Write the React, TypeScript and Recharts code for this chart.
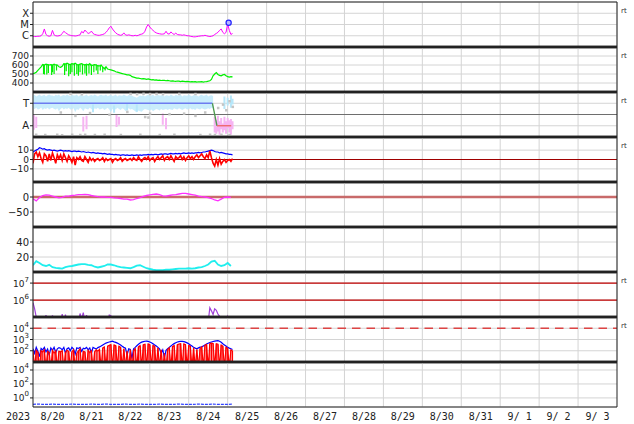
import React from 'react';
import { ComposedChart, Line, Area, Scatter, XAxis, YAxis, ReferenceLine, CartesianGrid } from 'recharts';

// ---------- time axis (days since 2023-08-20 00:00 UT) ----------
const YEAR_LABEL = '2023';
const DAY_LABELS = ['8/20', '8/21', '8/22', '8/23', '8/24', '8/25', '8/26', '8/27', '8/28', '8/29', '8/30', '8/31', '9/ 1', '9/ 2', '9/ 3'];
const DAY_TICKS = [1, 2, 3, 4, 5, 6, 7, 8, 9, 10, 11, 12, 13, 14];
const LABEL_TICKS = [0.5, 1.5, 2.5, 3.5, 4.5, 5.5, 6.5, 7.5, 8.5, 9.5, 10.5, 11.5, 12.5, 13.5, 14.5];

// ---------- panel 1: X-ray flux (hourly) ----------
const XRAY_TICK_LABELS = ['X', 'M', 'C'];
const XRAY_FLUX = [
  9e-7, 8.5e-7, 8.5e-7, 9e-7, 9e-7, 1e-6, 1.5e-6, 4e-6, 1.3e-6, 1e-6,
  9e-7, 1e-6, 3e-6, 1.2e-6, 1e-6, 9.5e-7, 1e-6, 1.1e-6, 1.6e-6, 2.5e-6,
  1.9e-6, 1.5e-6, 1.2e-6, 1.1e-6, 1e-6, 1e-6, 9.5e-7, 1e-6, 1.1e-6, 1.2e-6,
  2.4e-6, 1.8e-6, 3.2e-6, 2.2e-6, 1.6e-6, 1.8e-6, 2.6e-6, 1.6e-6, 1.3e-6, 1.2e-6,
  1.1e-6, 1.1e-6, 1.2e-6, 1.3e-6, 1.5e-6, 2e-6, 3e-6, 5e-6, 7e-6, 4e-6,
  2.6e-6, 1.8e-6, 1.4e-6, 1.2e-6, 1.1e-6, 1.2e-6, 1.8e-6, 1.2e-6, 1.1e-6, 1.2e-6,
  1.1e-6, 1e-6, 1e-6, 1.1e-6, 1e-6, 1.1e-6, 1.3e-6, 1.4e-6, 1.6e-6, 2.5e-6,
  6e-6, 1e-5, 6e-6, 4e-6, 3e-6, 2.2e-6, 1.8e-6, 1.6e-6, 1.5e-6, 1.4e-6,
  1.4e-6, 1.5e-6, 2.5e-6, 1.5e-6, 1.4e-6, 2.2e-6, 1.6e-6, 1.3e-6, 1.7e-6, 1.3e-6,
  1.2e-6, 1.2e-6, 1.1e-6, 1.2e-6, 1.1e-6, 1e-6, 1e-6, 9e-7, 8.5e-7, 8e-7,
  8e-7, 8.5e-7, 9e-7, 9.5e-7, 1e-6, 1e-6, 1.1e-6, 1e-6, 9e-7, 8.5e-7,
  9e-7, 1e-6, 1.3e-6, 1.6e-6, 2e-6, 3e-6, 4e-6, 2e-6, 1.5e-6, 2e-6,
  1.2e-5, 3e-6, 1.3e-6, 1.6e-6,
];
const FLARE_MARKERS = [{ h: 120.6, v: 1.45e-5 }];

// ---------- panel 2: solar wind speed (hourly) ----------
const SPEED_TICKS = [700, 600, 500, 400];
const SW_SPEED = [
  505, 510, 520, 540, 560, 580,
  605, 600, 610, 605, 600, 605, 600, 610, 600, 600,
  580, 575, 585,
  615, 610, 620, 610, 605, 615, 610, 620, 605, 600, 610, 615, 605, 600, 610, 600, 615, 590, 600, 605, 600, 590, 590, 600,
  575, 560, 580, 555, 550,
  545, 540, 535, 525, 520, 515, 510, 505, 500, 495, 490, 490, 485,
  470, 465, 460, 455, 455, 450, 445, 448, 445, 440,
  445, 440, 435, 438, 432, 435, 430, 432, 428, 430,
  430, 425, 428, 425, 420, 424, 420, 418, 422, 420,
  416, 420, 418, 415, 418, 415, 412, 416, 412, 415,
  410, 414, 412, 415, 410, 414, 416, 420, 425,
  440, 480, 500, 515, 495, 485, 480, 490, 495, 480, 470, 465, 470, 468,
];
// short dips in speed: [hour, low, high]
const SW_SPEED_DIPS = [
  [6.5, 500, 605], [7, 495, 600], [8.5, 495, 610], [9.5, 510, 605], [11.5, 490, 605], [12, 520, 600],
  [13, 500, 610], [14.5, 540, 605], [19.5, 490, 615], [20.5, 530, 615], [22, 475, 612], [23, 500, 610],
  [24, 520, 615], [25.5, 480, 615], [27, 500, 612], [28, 480, 605], [29, 520, 608], [30.5, 495, 612],
  [32, 505, 612], [33, 480, 605], [34.5, 505, 610], [36, 490, 605], [37.5, 520, 600], [39, 540, 605],
  [40, 500, 600], [41.5, 540, 590], [43, 520, 580], [44.5, 540, 570],
];

// ---------- panel 3: sector (T / A) ----------
const SECTOR_TICK_LABELS = ['T', 'A'];
const SECTOR_CYAN_HI = [
  1.7, 1.75, 1.6, 1.7, 1.78, 1.65, 1.7, 1.75, 1.6, 1.72, 1.78, 1.68,
  1.7, 1.62, 1.75, 1.7, 1.78, 1.6, 1.7, 1.74, 1.66, 1.78, 1.7, 1.62,
  1.75, 1.7, 1.68, 1.78, 1.6, 1.72, 1.75, 1.65, 1.7, 1.78, 1.62, 1.7,
  1.74, 1.66, 1.78, 1.7, 1.6, 1.72, 1.75, 1.68, 1.7, 1.78, 1.62, 1.7,
  1.75, 1.65, 1.7, 1.78, 1.6, 1.72, 1.7, 1.66, 1.78, 1.7, 1.62, 1.74,
  1.7, 1.68, 1.6, 1.55, 1.5, 1.6, 1.7, 1.65, 1.72, 1.6, 1.7, 1.75,
  1.66, 1.7, 1.78, 1.62, 1.7, 1.74, 1.68, 1.7, 1.78, 1.6, 1.72, 1.7,
  1.65, 1.78, 1.7, 1.62, 1.75, 1.7, 1.68, 1.78, 1.6, 1.72, 1.7, 1.66,
  1.78, 1.7, 1.62, 1.74, 1.7, 1.68, 1.6, 1.72, 1.75, 1.66, 1.7, 1.78,
  1.6, 1.7, 1.72, 1.65,
];
const SECTOR_CYAN_LO = [
  0.55, 0.5, 0.6, 0.45, 0.5, 0.62, 0.4, 0.55, 0.5, 0.6, 0.45, 0.55,
  0.6, 0.5, 0.45, 0.55, 0.3, 0.5, 0.6, 0.45, 0.55, 0.5, 0.6, 0.45,
  0.5, 0.55, 0.2, 0.5, 0.4, 0.6, 0.5, 0.3, 0.55, 0.5, 0.45, 0.6,
  0.5, 0.35, 0.55, 0.5, 0.6, 0.45, 0.5, 0.55, 0.4, 0.5, 0.6, 0.45,
  0.2, 0.5, 0.55, 0.45, 0.6, 0.5, 0.4, 0.55, 0.5, 0.3, 0.5, 0.55,
  0.45, 0.5, 0.4, 0.3, 0.2, 0.35, 0.3, 0.25, 0.4, 0.5, 0.45, 0.4,
  0.35, 0.45, 0.3, 0.4, 0.5, 0.45, 0.35, 0.5, 0.4, 0.45, 0.5, 0.4,
  0.5, 0.45, 0.4, 0.55, 0.5, 0.45, 0.55, 0.5, 0.4, 0.5, 0.55, 0.45,
  0.5, 0.55, 0.45, 0.5, 0.4, 0.55, 0.5, 0.45, 0.55, 0.5, 0.45, 0.5,
  0.55, 0.5, 0.6, 0.55,
];
// [hour, low, high]
const SECTOR_CYAN_STREAKS = [
  [37, 0.2, 0.9], [50, 0.15, 0.8], [58, 0.35, 1.0], [64, 0.25, 0.9],
  [118, 0.5, 1.6], [120, 0.8, 1.5], [122, 0.6, 1.7], [123, 0.9, 1.4],
];
const SECTOR_PINK_STREAKS = [
  [0.5, -1.35, -0.05], [2, -1.2, -0.2], [31, -1.5, -0.2], [33, -1.3, -0.1],
  [51.5, -1.1, 0.0], [53, -0.9, -0.2], [80, -0.9, 0.1], [82, -1.3, -0.3],
  [112, -1.6, -0.2], [113, -1.7, -0.5], [114, -1.5, -0.1], [115, -1.8, -0.6],
  [116, -1.3, -0.3], [117, -1.6, -0.8], [118, -1.4, -0.2], [119, -1.7, -0.6],
  [120, -1.2, -0.3], [121, -1.6, -0.5], [122, -1.8, -0.4], [123, -1.3, -0.6],
];
// [hour, value]
const SECTOR_GRAY_DOTS = [
  [1.8, -1.78], [7.4, -1.8], [14.8, -1.78], [17.8, -1.82], [24, -1.78], [29, -1.8], [32, -1.78], [38, -1.8],
  [44, -1.78], [54, -1.8], [66, -1.78], [78, -1.8], [87, -1.78], [103, -1.8], [109, -1.78], [112, -1.8],
  [116, -1.78], [121, -1.8],
  [17, 0.2], [26, -0.1], [47, 0.0], [69, -0.2], [71, -0.25], [72, 0.1], [93, 0.1], [100, -0.1], [106, 0.2],
  [35, 0.15], [58, 0.25], [84, 0.05],
  [23, 1.85], [30, 1.82], [60, 1.85], [64, 1.83], [68, 1.86], [72, 1.84], [76, 1.85], [80, 1.83], [90, 1.85], [100, 1.84],
  [114, 0.6], [117, 0.9], [119, 0.4], [121, 1.2], [123, 0.7],
];
const SECTOR_T_LINE = [[0, 1], [110.6, 1]];
const SECTOR_SWITCH_LINE = [[110.6, 1], [113.4, -1]];
const SECTOR_A_LINE = [[113.4, -1], [122.2, -1]];

// ---------- panel 4: IMF Bt / Bz (hourly, nT) ----------
const IMF_TICKS = [10, 0, -10];
const IMF_BT = [
  8, 9, 10, 11, 12.5, 12, 11, 11.5, 10.5, 10,
  10.5, 10, 9.5, 10, 9.5, 9, 9.5, 10, 9.5, 9,
  9.5, 9, 9.5, 9, 8.5, 9, 9, 8.5, 9, 8.5,
  8, 8.5, 8, 7.5, 8, 7.5, 7, 7.5, 7, 6.5,
  7, 6.5, 6.5, 6, 6.5, 6, 5.5, 6, 5.5, 5.5,
  5, 5.5, 5, 5, 4.5, 5, 5, 4.5, 5, 4.5,
  4.5, 5, 4.5, 4.5, 5, 4.5, 5, 4.5, 5, 5,
  5, 5.5, 5, 5.5, 5, 5.5, 5.5, 5, 5.5, 6,
  5.5, 6, 6, 5.5, 6, 6.5, 6, 6, 6.5, 6,
  6.5, 6, 6.5, 7, 6.5, 6.5, 7, 6.5, 7, 6.5,
  7, 7, 7.5, 7, 7.5, 8, 8, 8.5, 9, 9.5,
  10, 9.5, 8.5, 8, 8, 7, 7.5, 7, 6.5, 6,
  6, 5.5, 5.5, 5,
];
const IMF_BZ = [
  -4, 6, 8, 3, 7, 1, -3, 6, 4, -2,
  6, -1, 7, 2, -4, 5, 1, 5, -1, 6,
  2, -2, 4, 1, -3, 3, -6, 2, 0, 3,
  -1, -2, 3, 0, -3, 2, -1, 1, -2, 0,
  1, -1, 0, 2, -2, 1, -1, 0, 1, -3,
  0, 1, -1, 0, 2, -2, 0, 1, -1, 0,
  1, -1, 2, 0, -1, 3, 0, -2, 1, 2,
  0, 3, -1, 1, 2, -2, 1, 3, 0, 2,
  4, -1, 2, 3, 0, 4, 1, -2, 3, 1,
  2, 4, 0, 3, -1, 2, 4, 1, 3, 0,
  3, 5, 2, 4, 6, 3, 1, 5, 2, 9,
  2, -4, -7, 0, -6, 1, -5, -2, 0, -3,
  -1, 0, -2, 1,
];

// ---------- panel 5: Dst-like index (2-hourly, nT) ----------
const DST_TICKS = [0, -50];
const DST = [
  -6, -13, -2, 5, 7, 6, 3, 0, -3, -1,
  3, 3, 5, 6, 8, 8, 9, 8, 5, 3,
  1, 0, 0, -1, -1, -3, -4, -5, -7, -7,
  -10, -9, -5, -2, 2, 5, 7, 9, 10, 8,
  4, 3, 5, 7, 8, 10, 12, 12, 10, 8,
  6, 3, 1, 0, -2, -5, -10, -13, -7, -1,
  0, -1,
];

// ---------- panel 6: density (2-hourly) ----------
const DENS_TICKS = [40, 20];
const DENSITY = [
  9, 14.5, 12, 9, 8, 9.5, 6.5, 5.5, 5, 4.5,
  6.5, 7.5, 8, 9, 10, 10.5, 10.5, 9.5, 9, 7,
  6, 7, 8, 10, 10, 9, 7.5, 6.5, 6, 5.5,
  5, 6.5, 8.5, 9, 7, 5, 4, 3, 2.5, 2.5,
  2.5, 3, 3, 3.5, 4, 4.5, 4.5, 4.5, 5, 4.5,
  5, 6, 6.5, 8, 10, 14, 15, 10, 8, 9,
  12, 8,
];

// ---------- panel 7: electron flux (hourly) ----------
const ELEC_TICKS = [1e7, 1e6];
const ELEC_EXP = ['7', '6'];
const ELECTRON = [
  7e5, 3e5, 1e5, 6e4, 5e4, 5e4, 5e4, 5e4, 1.3e5, 5e4,
  5e4, 5e4, 1.25e5, 5e4, 5e4, 5e4, 5e4, 5e4, 1.5e5, 5e4,
  1.4e5, 5e4, 5e4, 5e4, 5e4, 5e4, 5e4, 5e4, 5e4, 1.6e5,
  8e4, 1.8e5, 5e4, 1.3e5, 5e4, 5e4, 5e4, 5e4, 5e4, 5e4,
  5e4, 5e4, 5e4, 5e4, 5e4, 5e4, 5e4, 1.3e5, 1.2e5, 5e4,
  5e4, 5e4, 5e4, 5e4, 5e4, 5e4, 5e4, 5e4, 5e4, 5e4,
  5e4, 5e4, 5e4, 5e4, 5e4, 5e4, 5e4, 5e4, 5e4, 5e4,
  5e4, 5e4, 5e4, 5e4, 5e4, 5e4, 5e4, 5e4, 5e4, 5e4,
  5e4, 5e4, 5e4, 5e4, 5e4, 5e4, 5e4, 5e4, 5e4, 5e4,
  5e4, 5e4, 5e4, 5e4, 5e4, 5e4, 5e4, 5e4, 5e4, 5e4,
  5e4, 5e4, 5e4, 5e4, 5e4, 5e4, 5e4, 5e4, 5e4, 3.5e5,
  2.3e5, 1.4e5, 3e5, 2.5e5, 1.5e5, 1.1e5, 5e4, 5e4, 5e4, 5e4,
  1.05e5, 5e4, 5e4, 5e4,
];

// ---------- panel 8: particle flux, two channels (hourly) ----------
const PART_TICKS = [1e4, 1e3, 1e2];
const PART_EXP = ['4', '3', '2'];
const PART_THRESHOLD = 1e4;
const PART_FLOOR = 5;
const PART_BLUE = [
  150, 60, 200, 90, 30, 160, 120, 200, 80, 140, 40, 180, 110, 200, 70, 150, 190,
  170, 120, 200, 60, 150, 180, 100, 200, 140, 50, 180, 160, 200, 90, 170, 150, 200, 120, 180, 60, 200, 170, 140, 190,
  220, 260, 330, 400, 480, 540,
  600, 650, 700, 620, 560, 480,
  400, 330, 250, 200, 170, 40, 150, 130, 20, 150,
  200, 280, 380, 480, 580, 650, 700, 720,
  680, 600, 520, 420, 330, 260,
  200, 150, 60, 120, 25, 110, 150, 200,
  260, 350, 430, 520, 600, 650, 700, 680, 640, 580,
  500, 420, 330, 260, 200, 170, 150, 180, 210,
  220, 260, 330, 400, 470, 540, 600,
  660, 720, 760, 780, 700, 560, 420,
  330, 260, 200, 170, 150, 130,
];
const PART_RED = [
  90, 3, 110, 70, 3, 100, 80, 120, 3, 90, 70, 3, 110, 60, 100, 3, 90,
  80, 100, 3, 70, 110, 90, 3, 80, 120, 3, 60, 100, 150, 3, 90, 80, 3, 110, 70, 100, 3, 80, 120, 90,
  130, 3, 180, 220, 3, 260,
  300, 350, 3, 330, 280, 3,
  250, 200, 3, 150, 3, 90, 3, 120, 3, 100,
  150, 3, 220, 280, 3, 350, 380, 3,
  400, 350, 3, 300, 250, 3,
  180, 3, 120, 3, 60, 3, 130, 180,
  3, 230, 290, 3, 350, 400, 430, 3, 400, 350,
  3, 300, 250, 3, 180, 3, 130, 3, 160,
  220, 3, 300, 360, 3, 420, 480,
  450, 3, 420, 380, 3, 320, 260,
  3, 200, 160, 3, 120, 100,
];

// ---------- panel 9: (3-hourly) ----------
const P9_TICKS = [1e4, 1e2, 1];
const P9_EXP = ['4', '2', '0'];
const P9_VALUES = [
  0.12, 0.13, 0.12, 0.12, 0.13, 0.12, 0.12, 0.12, 0.13, 0.12,
  0.12, 0.12, 0.13, 0.12, 0.12, 0.13, 0.12, 0.12, 0.12, 0.13,
  0.12, 0.12, 0.13, 0.12, 0.12, 0.12, 0.13, 0.12, 0.12, 0.12,
  0.13, 0.12, 0.12, 0.12, 0.13, 0.12, 0.12, 0.13, 0.12, 0.12,
  0.12, 0.13,
];

// ---------- helpers to build tables ----------
const series = (vals: number[], stepH: number) => vals.map((v, i) => ({ t: (i * stepH) / 24, v }));
const pairs = (pts: number[][]) => pts.map(([h, v]) => ({ t: h / 24, v }));
const streaks = (list: number[][]) =>
  list.flatMap(([h, lo, hi]) => [{ t: h / 24, v: lo }, { t: h / 24, v: hi }, { t: h / 24, v: null }]);

const xrayData = series(XRAY_FLUX, 1);
const flareData = FLARE_MARKERS.map((m) => ({ t: m.h / 24, v: m.v }));
const speedData = series(SW_SPEED, 1);
const speedDips = streaks(SW_SPEED_DIPS);
const sectorBand = SECTOR_CYAN_HI.map((hi, i) => ({ t: i / 24, band: [SECTOR_CYAN_LO[i], hi] }));
const btData = series(IMF_BT, 1);
const bzData = series(IMF_BZ, 1);
const dstData = series(DST, 2);
const densData = series(DENSITY, 2);
const elecData = series(ELECTRON, 1);
const partBlueData = series(PART_BLUE, 1);
const partRedData = series(PART_RED, 1);
const partRedColumns = streaks(PART_RED.map((v, i) => [i, PART_FLOOR, v]));
const p9Data = series(P9_VALUES, 3);

// ---------- layout ----------
const W = 634;
const PANEL_H = 45;
const PAD = 5;
const X_AXIS_H = 17;
const FRAME = '#222';
const GRID = '#d4d4d4';
const SANS = 'DejaVu Sans';
const MONO = 'DejaVu Sans Mono';

const textTick = (labels: string[], size: number) => (p: any) => (
  <text x={p.x} y={p.y} dy={size * 0.36} textAnchor="end" fontSize={size} fontFamily={SANS} fill="#222">
    {labels[p.index] ?? ''}
  </text>
);
const numTick = (size: number) => (p: any) => (
  <text x={p.x} y={p.y} dy={size * 0.36} textAnchor="end" fontSize={size} fontFamily={SANS} fill="#222">
    {String(p.payload.value).replace('-', '\u2212')}
  </text>
);
const powTick = (exps: string[]) => (p: any) => (
  <text x={p.x} y={p.y + 3.5} textAnchor="end" fontSize={9} fontFamily={SANS} fill="#222">
    <tspan>10</tspan>
    <tspan dy={-5} fontSize={7}>{exps[p.index]}</tspan>
  </text>
);
const rtTick = (p: any) => (
  <text x={p.x} y={p.y + 11} fontSize={7} fontFamily={SANS} fill="#333">rt</text>
);
const dayTick = (p: any) => (
  <g>
    <text x={p.x} y={p.y} dy={7.3} textAnchor="middle" fontSize={10} fontFamily={MONO} fill="#222">
      {DAY_LABELS[p.index]}
    </text>
    {p.index === 0 && (
      <text x={p.x - 34.5} y={p.y} dy={7.3} textAnchor="middle" fontSize={10} fontFamily={MONO} fill="#222">
        {YEAR_LABEL}
      </text>
    )}
  </g>
);
const dotShape = (color: string) => (p: any) => (
  <rect x={p.cx - 1} y={p.cy - 1} width={2.5} height={2.5} fill={color} />
);
const ringShape = (p: any) => (
  <circle cx={p.cx} cy={p.cy} r={2.6} fill="#b8b8ff" stroke="#2424ff" strokeWidth={1.2} />
);

type PanelProps = {
  top: number;
  domain: [number, number];
  log?: boolean;
  ticks: number[];
  tick: any;
  rt?: boolean;
  first?: boolean;
  last?: boolean;
  data?: any[];
  children?: React.ReactNode;
};

function Panel({ top, domain, log, ticks, tick, rt, first, last, data, children }: PanelProps) {
  const scale = log ? 'log' : 'linear';
  const h = PAD + PANEL_H + (last ? X_AXIS_H : PAD);
  return (
    <div style={{ position: 'absolute', left: 0, top: top - PAD, width: W, height: h }}>
      <ComposedChart width={W} height={h} data={data} margin={{ top: PAD, right: 0, left: 0, bottom: last ? 0 : PAD }}>
        <CartesianGrid stroke={GRID} strokeWidth={1} vertical={!last} />
        {last ? (
          <XAxis
            type="number"
            dataKey="t"
            domain={[0, 15]}
            allowDataOverflow
            ticks={LABEL_TICKS}
            interval={0}
            height={X_AXIS_H}
            axisLine={false}
            tickLine={false}
            tickSize={0}
            tickMargin={6}
            tick={dayTick}
          />
        ) : (
          <XAxis type="number" dataKey="t" domain={[0, 15]} ticks={DAY_TICKS} hide allowDataOverflow />
        )}
        <YAxis
          type="number"
          domain={domain}
          scale={scale}
          allowDataOverflow
          ticks={ticks}
          interval={0}
          width={33}
          tick={tick}
          tickSize={3}
          tickMargin={1}
          axisLine={{ stroke: FRAME }}
          tickLine={{ stroke: FRAME }}
        />
        <YAxis
          yAxisId="r"
          orientation="right"
          type="number"
          domain={domain}
          scale={scale}
          allowDataOverflow
          ticks={rt ? [domain[1]] : []}
          interval={0}
          width={17}
          tick={rt ? rtTick : false}
          tickSize={0}
          tickMargin={4}
          axisLine={{ stroke: FRAME }}
          tickLine={false}
        />
        {last && DAY_TICKS.map((d) => <ReferenceLine key={d} x={d} stroke={GRID} strokeWidth={1} />)}
        {children}
        <ReferenceLine y={domain[1]} stroke={FRAME} strokeWidth={first ? 1 : 2.5} ifOverflow="visible" />
        <ReferenceLine y={domain[0]} stroke={FRAME} strokeWidth={last ? 1 : 2.5} ifOverflow="visible" />
      </ComposedChart>
    </div>
  );
}

export default function App() {
  return (
    <div style={{ position: 'absolute', left: 0, top: 0, width: W, height: 424, background: '#fff' }}>
      {/* 1: X-ray */}
      <Panel top={2} domain={[1e-7, 1e-3]} log ticks={[1e-4, 1e-5, 1e-6]} tick={textTick(XRAY_TICK_LABELS, 10)} rt first>
        <Line data={xrayData} dataKey="v" stroke="#ff00ff" strokeWidth={1} dot={false} isAnimationActive={false} />
        <Scatter data={flareData} dataKey="v" shape={ringShape} isAnimationActive={false} />
      </Panel>

      {/* 2: speed */}
      <Panel top={47} domain={[300, 800]} ticks={SPEED_TICKS} tick={numTick(9)} rt>
        <Line data={speedDips} dataKey="v" stroke="#00f000" strokeWidth={1.2} dot={false} isAnimationActive={false} />
        <Line data={speedData} dataKey="v" stroke="#00f000" strokeWidth={1.2} dot={false} isAnimationActive={false} />
      </Panel>

      {/* 3: sector */}
      <Panel top={92} domain={[-2, 2]} ticks={[1, -1]} tick={textTick(SECTOR_TICK_LABELS, 10)} rt data={sectorBand}>
        <Area dataKey="band" type="linear" fill="#bfeafb" fillOpacity={0.85} stroke="none" isAnimationActive={false} />
        <Line data={streaks(SECTOR_CYAN_STREAKS)} dataKey="v" stroke="#b6e7fa" strokeWidth={2} dot={false} isAnimationActive={false} />
        <Scatter data={pairs(SECTOR_GRAY_DOTS)} dataKey="v" shape={dotShape('#c4c4c4')} isAnimationActive={false} />
        <Line data={streaks(SECTOR_PINK_STREAKS)} dataKey="v" stroke="#f6b4f2" strokeWidth={2} dot={false} isAnimationActive={false} />
        <ReferenceLine y={0} stroke="#6e6e6e" strokeWidth={1} />
        <Line data={pairs(SECTOR_T_LINE)} dataKey="v" stroke="#6d7cf0" strokeWidth={1.3} dot={false} isAnimationActive={false} />
        <Line data={pairs(SECTOR_SWITCH_LINE)} dataKey="v" stroke="#4f9a4f" strokeWidth={1.3} dot={false} isAnimationActive={false} />
        <Line data={pairs(SECTOR_A_LINE)} dataKey="v" stroke="#ee6464" strokeWidth={1.3} dot={false} isAnimationActive={false} />
      </Panel>

      {/* 4: IMF */}
      <Panel top={137} domain={[-24, 24]} ticks={IMF_TICKS} tick={numTick(9)} rt>
        <ReferenceLine y={0} stroke="#a00000" strokeWidth={1} />
        <Line data={btData} dataKey="v" stroke="#0000ff" strokeWidth={1.2} dot={false} isAnimationActive={false} />
        <Line data={bzData} dataKey="v" stroke="#ff0000" strokeWidth={1.6} dot={false} isAnimationActive={false} />
      </Panel>

      {/* 5: Dst */}
      <Panel top={182} domain={[-100, 50]} ticks={DST_TICKS} tick={numTick(10)}>
        <ReferenceLine y={0} stroke="#c86a6a" strokeWidth={2.5} />
        <Line data={dstData} dataKey="v" stroke="#ff30ff" strokeWidth={1.3} dot={false} isAnimationActive={false} />
      </Panel>

      {/* 6: density */}
      <Panel top={227} domain={[0, 60]} ticks={DENS_TICKS} tick={numTick(10)}>
        <Line data={densData} dataKey="v" stroke="#20eeee" strokeWidth={1.8} dot={false} isAnimationActive={false} />
      </Panel>

      {/* 7: electrons */}
      <Panel top={272} domain={[1e5, 4.5e7]} log ticks={ELEC_TICKS} tick={powTick(ELEC_EXP)} rt>
        <ReferenceLine y={1e7} stroke="#c00000" strokeWidth={1.2} />
        <ReferenceLine y={1e6} stroke="#c00000" strokeWidth={1.2} />
        <Line data={elecData} dataKey="v" stroke="#a040d8" strokeWidth={1.2} dot={false} isAnimationActive={false} />
      </Panel>

      {/* 8: particles */}
      <Panel top={317} domain={[10, 1e5]} log ticks={PART_TICKS} tick={powTick(PART_EXP)} rt>
        <ReferenceLine y={PART_THRESHOLD} stroke="#dd4444" strokeWidth={1.5} strokeDasharray="8.5 6" />
        <Line data={partBlueData} dataKey="v" stroke="#0000ff" strokeWidth={1.2} dot={false} isAnimationActive={false} />
        <Line data={partRedColumns} dataKey="v" stroke="#ff0000" strokeWidth={1.1} dot={false} isAnimationActive={false} />
        <Line data={partRedData} dataKey="v" stroke="#ff0000" strokeWidth={1.2} dot={false} isAnimationActive={false} />
      </Panel>

      {/* 9 */}
      <Panel top={362} domain={[0.05, 1.4e5]} log ticks={P9_TICKS} tick={powTick(P9_EXP)} last>
        <Line data={p9Data} dataKey="v" stroke="#3344ff" strokeWidth={1.2} strokeDasharray="3 1" dot={false} isAnimationActive={false} />
      </Panel>
    </div>
  );
}
